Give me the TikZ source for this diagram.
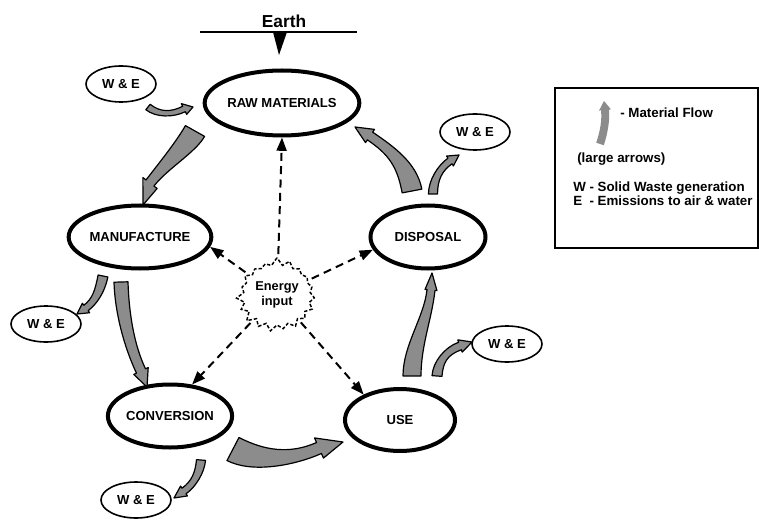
\documentclass[tikz,border=0pt]{standalone}
\usepackage{fontspec}
\setmainfont{Liberation Sans}
\usetikzlibrary{shapes.geometric,shapes.symbols,arrows.meta,calc}
\definecolor{flowgray}{RGB}{140,140,140}

% Broad curved flow arrow:
% #1 tail centre, #2 #3 control points, #4 neck centre, #5 tip,
% #6 tail half width, #7 neck half width, #8 head half width, #9 style
\newcommand\flowarrow[9]{%
  \path[#9]
    ($(#1)!#6!90:(#2)$)
      .. controls ($(#2)!#6!-90:(#1)$) and ($(#3)!#7!90:(#4)$) ..
    ($(#4)!#7!-90:(#3)$) -- ($(#4)!#8!-90:(#3)$) -- (#5)
    -- ($(#4)!#8!90:(#3)$) -- ($(#4)!#7!90:(#3)$)
      .. controls ($(#3)!#7!-90:(#4)$) and ($(#2)!#6!90:(#1)$) ..
    ($(#1)!#6!-90:(#2)$) -- cycle;}

\tikzset{
  lbl/.style={font=\bfseries\fontsize{9.8}{12}\selectfont},
  stage/.style={ellipse, draw, line width=3pt, inner sep=0pt, lbl},
  waste/.style={ellipse, draw, line width=1.2pt, minimum width=52.5pt,
    minimum height=27pt, inner sep=0pt, lbl},
  flow/.style={fill=flowgray, draw=black, line width=0.9pt, line join=round},
  legendflow/.style={fill=flowgray},
  energyline/.style={line width=1.5pt, dash pattern=on 6pt off 4pt,
    shorten <=3pt, -{Triangle[length=10pt,width=7.5pt]}},
  legendtext/.style={anchor=base west, inner sep=0pt,
    font=\bfseries\fontsize{10}{12}\selectfont},
}

\begin{document}
\begin{tikzpicture}[x=0.75pt, y=-0.75pt]
\useasboundingbox (0,0) rectangle (759,520);

% Earth as the source of raw materials
\node[font=\bfseries\fontsize{13}{16}\selectfont] (earth) at (284,21) {Earth};
\coordinate (earthL) at (200,32);
\coordinate (earthR) at (357,32);
\draw[line width=2pt] (earthL) -- (earthR);
\fill (273,32) -- (287,32) -- (279,55) -- cycle;

% Life-cycle stages
\node[stage, minimum width=109.5pt, minimum height=48.75pt] (raw) at (282,103) {RAW MATERIALS};
\node[stage, minimum width=97.5pt, minimum height=47.25pt] (manuf) at (140,237) {MANUFACTURE};
\node[stage, minimum width=86.25pt, minimum height=47.25pt] (disp) at (428,237) {DISPOSAL};
\node[stage, minimum width=90.75pt, minimum height=47.25pt] (conv) at (170,416) {CONVERSION};
\node[stage, minimum width=82.5pt, minimum height=46.5pt] (use) at (400,420) {USE};

% Waste and emissions
\node[waste] (we1) at (121,84) {W \& E};
\node[waste] (we2) at (475,132) {W \& E};
\node[waste] (we3) at (46,324) {W \& E};
\node[waste] (we4) at (507,344) {W \& E};
\node[waste] (we5) at (136,500) {W \& E};

% Energy input
\node[starburst, draw, line width=1.1pt, dash pattern=on 2.5pt off 1.5pt,
  starburst points=19, starburst point height=6pt, random starburst=7,
  minimum width=62pt, minimum height=57pt, inner sep=0pt, align=center,
  font=\bfseries\fontsize{9.6}{11.3}\selectfont] (energy) at (277,295) {Energy\\input};

\draw[energyline] (energy) -- (raw.south);
\draw[energyline] (energy) -- (manuf.-8);
\draw[energyline] (energy) -- (disp.-167);
\draw[energyline] (energy) -- (conv.55);
\draw[energyline] (energy) -- (use.145);

% Material flow between stages
\flowarrow{195,131}{186,147}{163,166}{150,183}{143,205}{8.25pt}{3.75pt}{6.75pt}{flow}
\flowarrow{121,282}{122,315}{130,348}{141,371}{147,387}{5.25pt}{3.75pt}{6pt}{flow}
\flowarrow{233,449}{258,462}{292,460}{319,448}{343,442}{9.75pt}{4.5pt}{8.25pt}{flow}
\flowarrow{412,376}{412,345}{428,318}{431,290}{432,273}{6.75pt}{3pt}{4.5pt}{flow}
\flowarrow{412,191}{407,165}{392,151}{370,136}{355,127}{7.5pt}{3.5pt}{6pt}{flow}

% Flows towards waste and emissions
\flowarrow{148,107}{158,115}{172,115}{184,109}{193,107}{2.6pt}{2.25pt}{4.5pt}{flow}
\flowarrow{103,276}{100,291}{95,301}{86,308}{77,314}{3.75pt}{2.6pt}{4.5pt}{flow}
\flowarrow{201,460}{200,472}{194,484}{184,491}{174,498}{3.4pt}{2.6pt}{4.5pt}{flow}
\flowarrow{437,376}{438,362}{446,351}{460,346}{472,342}{3.75pt}{3pt}{4.9pt}{flow}
\flowarrow{433,194}{433,180}{440,168}{450,161}{459,155}{3.4pt}{2.6pt}{4.5pt}{flow}

% Legend
\draw[line width=1.5pt] (555,88) rectangle (757.5,248);
\flowarrow{600,144}{604,132}{606,120}{605,110}{604,101}{3pt}{3pt}{4.5pt}{legendflow}
\node[legendtext] (lg1) at (620,118) {- Material Flow};
\node[legendtext] (lg2) at (577,163) {(large arrows)};
\node[legendtext] (lg3) at (573,192) {W - Solid Waste generation};
\node[legendtext] (lg4) at (573,205) {E \ - Emissions to air \& water};
\end{tikzpicture}
\end{document}
